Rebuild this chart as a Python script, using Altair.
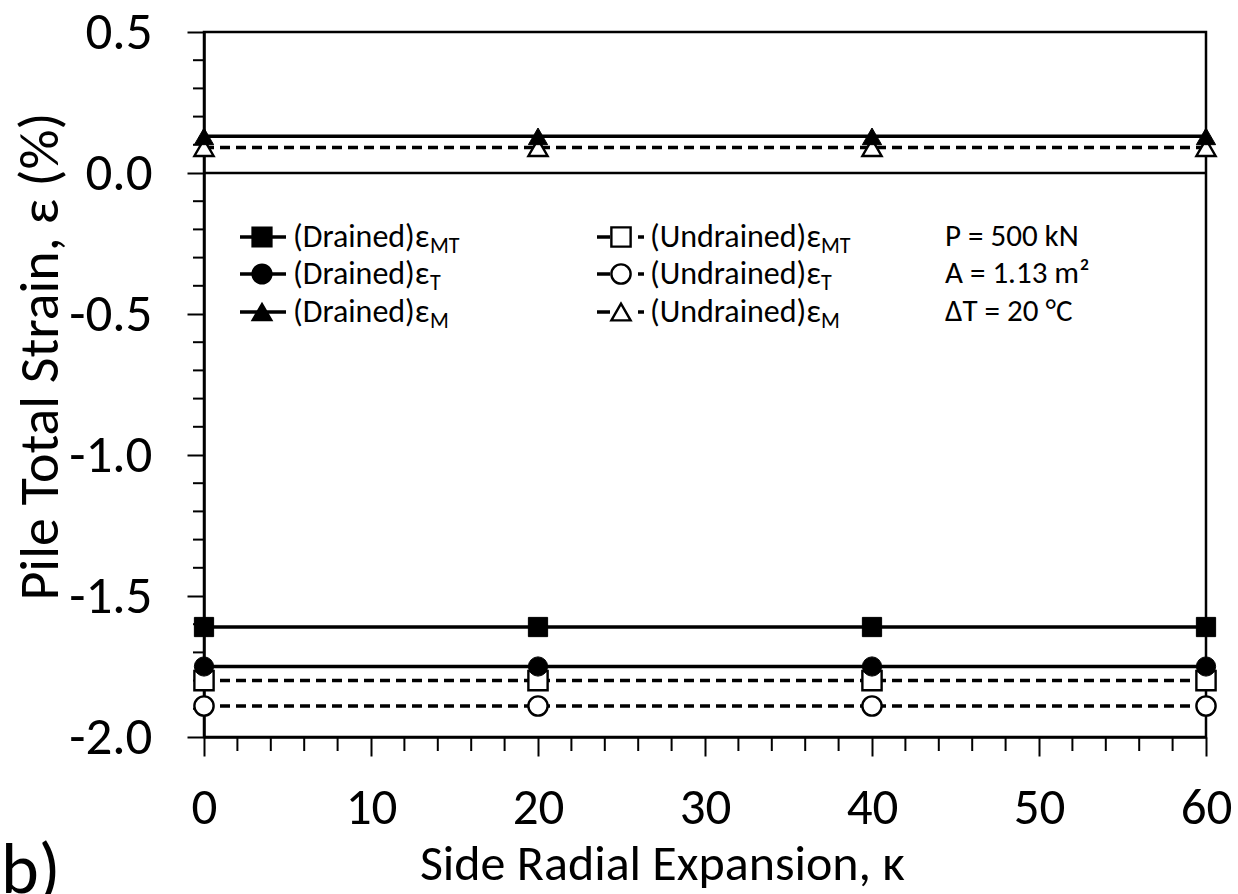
import altair as alt
import pandas as pd

# ---- data ----
kappa = [0, 20, 40, 60]
drained_MT = [-1.61, -1.61, -1.61, -1.61]
drained_T = [-1.75, -1.75, -1.75, -1.75]
drained_M = [0.13, 0.13, 0.13, 0.13]
undrained_MT = [-1.80, -1.80, -1.80, -1.80]
undrained_T = [-1.89, -1.89, -1.89, -1.89]
undrained_M = [0.09, 0.09, 0.09, 0.09]

x_major = [0, 10, 20, 30, 40, 50, 60]
x_minor = [v for v in range(0, 61, 2) if v % 10 != 0]
y_major = [-2.0, -1.5, -1.0, -0.5, 0.0, 0.5]
y_minor = [round(-2.0 + 0.1 * i, 1) for i in range(26) if i % 5 != 0]

legend_main = ["(Drained)ε", "(Drained)ε", "(Drained)ε",
               "(Undrained)ε", "(Undrained)ε", "(Undrained)ε"]
legend_sub = ["MT", "T", "M", "MT", "T", "M"]
notes = ["P = 500 kN", "A = 1.13 m²", "ΔT = 20 °C"]

FONT = "Carlito, Open Sans"

rows = []
for cond, comp, vals in [
    ("Drained", "MT", drained_MT), ("Drained", "T", drained_T), ("Drained", "M", drained_M),
    ("Undrained", "MT", undrained_MT), ("Undrained", "T", undrained_T), ("Undrained", "M", undrained_M),
]:
    for k, v in zip(kappa, vals):
        rows.append({"kappa": k, "strain": v, "cond": cond, "comp": comp,
                     "series": cond + comp})
df = pd.DataFrame(rows)

xscale = alt.Scale(domain=[0, 60], nice=False, zero=False)
yscale = alt.Scale(domain=[-2.0, 0.5], nice=False, zero=False)
shape_scale = alt.Scale(domain=["MT", "T", "M"], range=["square", "circle", "triangle-up"])

x_axis = alt.Axis(
    values=x_major, grid=False, labelOverlap=False, format="d",
    tickSize=19, tickWidth=2, tickColor="black", domainColor="black", domainWidth=2.5,
    labelFont=FONT, labelFontSize=51, labelColor="black", labelPadding=27,
    labelFlush=False,
    title="Side Radial Expansion, κ", titleFont=FONT, titleFontSize=50,
    titleFontWeight="normal", titleColor="black",
    titleX=458, titleY=127, titleAnchor="middle", titleAlign="center",
    titleBaseline="middle",
)
y_axis = alt.Axis(
    values=y_major, grid=False, labelOverlap=False,
    labelExpr="(datum.value < -0.001 ? '-' : '') + format(abs(datum.value), '.1f')",
    tickSize=17, tickWidth=2, tickColor="black", domainColor="black", domainWidth=2.5,
    labelFont=FONT, labelFontSize=53, labelColor="black", labelPadding=35,
    labelFlush=False,
    title="Pile Total Strain, ε (%)", titleFont=FONT, titleFontSize=56,
    titleFontWeight="normal", titleColor="black",
    titleX=-164, titleY=324, titleAngle=270, titleAlign="center",
    titleBaseline="middle",
)

base = alt.Chart(df)

zero_line = alt.Chart(pd.DataFrame({"y": [0.0]})).mark_rule(
    color="black", strokeWidth=2.5
).encode(y=alt.Y("y:Q", scale=yscale, axis=y_axis))

x_minor_ticks = alt.Chart(pd.DataFrame({"t": x_minor})).mark_rule(
    color="black", strokeWidth=2
).encode(x=alt.X("t:Q", scale=xscale, axis=x_axis), y=alt.value(705), y2=alt.value(719))

y_minor_ticks = alt.Chart(pd.DataFrame({"t": y_minor})).mark_rule(
    color="black", strokeWidth=2
).encode(y=alt.Y("t:Q", scale=yscale, axis=y_axis), x=alt.value(-11), x2=alt.value(0))

lines_d = base.transform_filter("datum.cond === 'Drained'").mark_line(
    color="black", strokeWidth=3.5
).encode(
    x=alt.X("kappa:Q", scale=xscale, axis=x_axis),
    y=alt.Y("strain:Q", scale=yscale, axis=y_axis),
    detail="series:N",
)
lines_u = base.transform_filter("datum.cond === 'Undrained'").mark_line(
    color="black", strokeWidth=3.5, strokeDash=[10, 6]
).encode(
    x=alt.X("kappa:Q", scale=xscale),
    y=alt.Y("strain:Q", scale=yscale),
    detail="series:N",
)
pts_u = base.transform_filter("datum.cond === 'Undrained'").mark_point(
    filled=True, fill="white", stroke="black", strokeWidth=2.4, size=370, opacity=1
).encode(
    x=alt.X("kappa:Q", scale=xscale),
    y=alt.Y("strain:Q", scale=yscale),
    shape=alt.Shape("comp:N", scale=shape_scale, legend=None),
)
pts_d = base.transform_filter("datum.cond === 'Drained'").mark_point(
    filled=True, fill="black", stroke="black", strokeWidth=1, size=370, opacity=1
).encode(
    x=alt.X("kappa:Q", scale=xscale),
    y=alt.Y("strain:Q", scale=yscale),
    shape=alt.Shape("comp:N", scale=shape_scale, legend=None),
)

# ---- hand-drawn legend (pixel layout inside the plot) ----
one = pd.DataFrame({"k": [0]})
legend_layers = []
row_y = [205, 242, 280]
shapes = ["square", "circle", "triangle-up"]
LEG_FS = 32
for i in range(6):
    col = i // 3
    r = i % 3
    y = row_y[r]
    if col == 0:
        tx = 89
        sub_dx = 137
        legend_layers.append(alt.Chart(one).mark_rule(color="black", strokeWidth=3.5).encode(
            x=alt.value(36), x2=alt.value(82), y=alt.value(y)))
        legend_layers.append(alt.Chart(one).mark_point(
            filled=True, fill="black", stroke="black", shape=shapes[r], size=370, opacity=1
        ).encode(x=alt.value(58), y=alt.value(y)))
    else:
        tx = 446
        sub_dx = 171
        legend_layers.append(alt.Chart(one).mark_rule(color="black", strokeWidth=3.5).encode(
            x=alt.value(393), x2=alt.value(406), y=alt.value(y)))
        legend_layers.append(alt.Chart(one).mark_rule(color="black", strokeWidth=3.5).encode(
            x=alt.value(434), x2=alt.value(440), y=alt.value(y)))
        legend_layers.append(alt.Chart(one).mark_point(
            filled=True, fill="white", stroke="black", strokeWidth=2.4, shape=shapes[r],
            size=370, opacity=1
        ).encode(x=alt.value(417), y=alt.value(y)))
    legend_layers.append(alt.Chart(one).mark_text(
        text=legend_main[i], font=FONT, fontSize=LEG_FS, color="black",
        align="left", baseline="middle"
    ).encode(x=alt.value(tx), y=alt.value(y)))
    legend_layers.append(alt.Chart(one).mark_text(
        text=legend_sub[i], font=FONT, fontSize=22, color="black",
        align="left", baseline="middle"
    ).encode(x=alt.value(tx + sub_dx), y=alt.value(y + 9)))

for r in range(3):
    legend_layers.append(alt.Chart(one).mark_text(
        text=notes[r], font=FONT, fontSize=31, color="black",
        align="left", baseline="middle"
    ).encode(x=alt.value(741), y=alt.value(row_y[r])))

panel_label = alt.Chart(one).mark_text(
    text="b)", font=FONT, fontSize=72, color="black", align="left", baseline="top"
).encode(x=alt.value(-203), y=alt.value(804))

chart = alt.layer(
    zero_line, x_minor_ticks, y_minor_ticks, lines_d, lines_u, pts_u, pts_d,
    *legend_layers, panel_label
).properties(
    width=1002, height=705,
    autosize=alt.AutoSizeParams(type="none"),
    padding={"left": 204, "top": 32, "right": 32, "bottom": 157},
    background="white",
).configure_view(stroke="black", strokeWidth=2.5)

chart.save("out.html", embed_options={"renderer": "svg", "actions": False})
